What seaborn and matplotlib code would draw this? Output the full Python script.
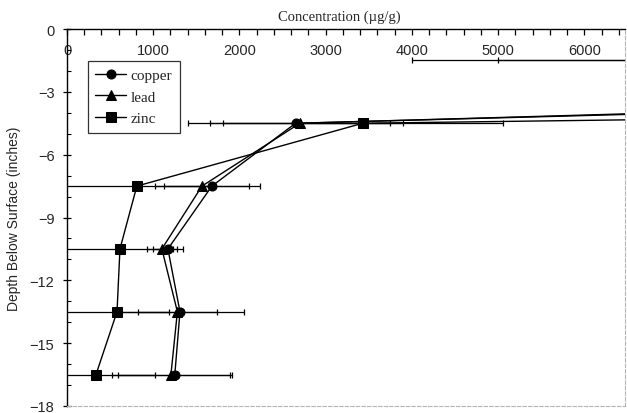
import matplotlib
matplotlib.use("Agg")
import matplotlib.pyplot as plt
import seaborn as sns
import numpy as np
import pandas as pd
from matplotlib.ticker import MultipleLocator

# depth of each sample (inches below surface)
depths = [-1.5, -4.5, -7.5, -10.5, -13.5, -16.5]

# mean concentration (ug/g) and error half-widths
copper = [30000, 2650, 1680, 1170, 1310, 1250]
lead = [28000, 2700, 1565, 1100, 1280, 1205]
zinc = [60000, 3430, 810, 614, 580, 336]

copper_err = [26000, 1250, 560, 175, 740, 660]
lead_err = [23000, 1040, 545, 175, 460, 685]
zinc_err = [40000, 1620, 850, 620, 600, 690]

metals = ["copper", "lead", "zinc"]

sns.set_theme(style="white")
plt.rcParams["font.family"] = ["Liberation Sans", "DejaVu Sans"]

df = pd.DataFrame({
    "depth": depths * 3,
    "conc": copper + lead + zinc,
    "metal": [m for m in metals for _ in depths],
})

fig = plt.figure(figsize=(6.27, 4.14), dpi=100)
ax = fig.add_axes([67 / 627, 1 - 407 / 414, (625 - 67) / 627, (407 - 30) / 414])

# error bars first so markers sit on top
for vals, errs in [(copper, copper_err), (lead, lead_err), (zinc, zinc_err)]:
    ax.errorbar(vals, depths, xerr=errs, fmt="none", ecolor="black",
                elinewidth=0.9, capsize=2.5, capthick=0.9, zorder=2)

sns.lineplot(data=df, x="conc", y="depth", hue="metal", style="metal",
             markers={"copper": "o", "lead": "^", "zinc": "s"}, dashes=False,
             palette={"copper": "black", "lead": "black", "zinc": "black"},
             sort=False, estimator=None, linewidth=1.0, markersize=6.5,
             markeredgecolor="black", ax=ax, zorder=3)

ax.set_xlim(0, 6470)
ax.set_ylim(-18, 0)

# x axis along the top, labels tucked inside the frame
ax.xaxis.tick_top()
ax.xaxis.set_major_locator(MultipleLocator(1000))
ax.xaxis.set_minor_locator(MultipleLocator(200))
ax.tick_params(axis="x", which="both", direction="in", pad=-20, labelsize=10.5,
               top=True, bottom=False, length=4, width=0.9, color="black")
ax.yaxis.set_major_locator(MultipleLocator(3))
ax.yaxis.set_minor_locator(MultipleLocator(1))
ax.tick_params(axis="y", which="major", direction="inout", length=6, width=0.9,
               labelsize=10.5, left=True, color="black", pad=6)
ax.tick_params(axis="y", which="minor", direction="in", length=3, width=0.8,
               left=True, color="black")

for side in ["top", "left"]:
    ax.spines[side].set_color("black")
    ax.spines[side].set_linewidth(1.0)
for side in ["bottom", "right"]:
    ax.spines[side].set_color("#b5b5b5")
    ax.spines[side].set_linewidth(0.8)
    ax.spines[side].set_linestyle((0, (3, 2)))

ax.set_xlabel("")
ax.set_ylabel("Depth Below Surface (inches)", fontsize=10, labelpad=6)
fig.text(339 / 627, 1 - 17 / 414, "Concentration (\u00b5g/g)", ha="center",
         va="center", fontsize=10.5, family=["Liberation Serif", "DejaVu Serif"])

leg = ax.legend(loc="upper left", bbox_to_anchor=(0.037, 0.915), borderaxespad=0,
                frameon=True, fancybox=False, edgecolor="black", handlelength=2.0,
                handletextpad=0.3, borderpad=0.5, labelspacing=0.5,
                prop={"family": ["Liberation Serif", "DejaVu Serif"], "size": 11})
leg.get_frame().set_linewidth(0.9)
leg.set_title(None)

fig.savefig("out.png", dpi=100)
